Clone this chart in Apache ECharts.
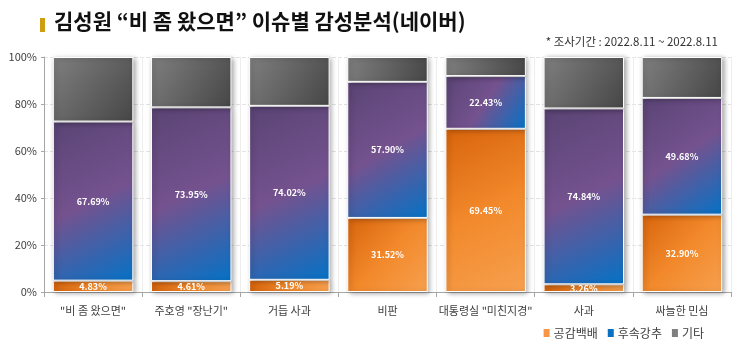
<!DOCTYPE html>
<html>
<head>
<meta charset="utf-8">
<script src="https://cdn.jsdelivr.net/npm/echarts@6/dist/echarts.min.js"></script>
<style>
  html, body { margin: 0; padding: 0; background: #fff; }
  #chart { width: 737px; height: 352px; }
</style>
</head>
<body>
<div id="chart"></div>
<script>
// 이슈별 감성 비율 (%)
const categories = ['"비 좀 왔으면"', '주호영 "장난기"', '거듭 사과', '비판', '대통령실 "미친지경"', '사과', '싸늘한 민심']
const empathy = [4.83, 4.61, 5.19, 31.52, 69.45, 3.26, 32.90]   // 공감백배
const recommend = [67.69, 73.95, 74.02, 57.90, 22.43, 74.84, 49.68] // 후속강추
const others = [27.48, 21.44, 20.79, 10.58, 8.12, 21.90, 17.42]   // 기타
const yTicks = [0, 20, 40, 60, 80, 100]

const chart = echarts.init(document.getElementById('chart'))

function grad(stops) {
  return new echarts.graphic.LinearGradient(0, 0, 1, 1, stops)
}

const barShadow = {
  borderColor: '#ffffff',
  borderWidth: 1,
  shadowBlur: 5,
  shadowColor: 'rgba(0,0,0,0.35)',
  shadowOffsetX: 2,
  shadowOffsetY: 1
}

chart.setOption({
  animation: false,
  textStyle: {fontFamily: '"Noto Sans CJK KR", "Noto Sans", sans-serif'},
  graphic: [
    {
      type: 'rect',
      left: 40, top: 18,
      shape: {width: 5, height: 14},
      style: {fill: '#CF9D12'}
    },
    {
      type: 'text',
      x: 54, y: 11,
      style: {
        text: '김성원 “비 좀 왔으면” 이슈별 감성분석(네이버)',
        font: 'bold 21px "Noto Sans CJK KR"',
        fill: '#111111'
      }
    },
    {
      type: 'text',
      right: 19, top: 36,
      style: {
        text: '* 조사기간 : 2022.8.11 ~ 2022.8.11',
        font: '11.5px "Noto Sans CJK KR"',
        fill: '#333333'
      }
    }
  ],
  legend: {
    right: 28,
    bottom: 8,
    itemWidth: 8,
    itemHeight: 10,
    itemGap: 8,
    icon: 'rect',
    textStyle: {fontSize: 12, color: '#404040', padding: [0, 0, 0, -2]},
    data: [
      {name: '공감백배', itemStyle: {color: '#F79646'}},
      {name: '후속강추', itemStyle: {color: '#0A70C0'}},
      {name: '기타', itemStyle: {color: '#7F7F7F'}}
    ]
  },
  grid: {left: 44, right: 6, top: 57, bottom: 60},
  xAxis: {
    type: 'category',
    data: categories,
    axisLine: {lineStyle: {color: '#A6A6A6'}},
    axisTick: {show: true, lineStyle: {color: '#A6A6A6'}},
    axisLabel: {color: '#404040', fontSize: 11, margin: 13, interval: 0},
    splitLine: {show: true, lineStyle: {color: '#EDEDED', width: 1}}
  },
  yAxis: {
    type: 'value',
    min: 0,
    max: 100,
    interval: 20,
    axisLine: {show: true, lineStyle: {color: '#A6A6A6'}},
    axisTick: {show: true, length: 3, lineStyle: {color: '#A6A6A6'}},
    axisLabel: {
      color: '#404040',
      fontSize: 11,
      margin: 7,
      formatter: v => yTicks.includes(v) ? v + '%' : ''
    },
    splitLine: {lineStyle: {color: '#E3E3E3', type: 'dashed'}}
  },
  series: [
    {
      name: '공감백배',
      type: 'bar',
      stack: 'total',
      barWidth: '82%',
      data: empathy,
      itemStyle: Object.assign({
        color: grad([
          {offset: 0, color: '#D8640C'},
          {offset: 0.5, color: '#F2892B'},
          {offset: 1, color: '#F7A04F'}
        ])
      }, barShadow),
      label: {
        show: true,
        position: 'inside',
        color: '#ffffff',
        fontSize: 9,
        fontWeight: 'bold',
        formatter: p => p.value.toFixed(2) + '%'
      }
    },
    {
      name: '후속강추',
      type: 'bar',
      stack: 'total',
      data: recommend,
      itemStyle: Object.assign({
        color: grad([
          {offset: 0, color: '#5A4474'},
          {offset: 0.5, color: '#74528F'},
          {offset: 1, color: '#0572C6'}
        ])
      }, barShadow),
      label: {
        show: true,
        position: 'inside',
        color: '#ffffff',
        fontSize: 9,
        fontWeight: 'bold',
        formatter: p => p.value.toFixed(2) + '%'
      }
    },
    {
      name: '기타',
      type: 'bar',
      stack: 'total',
      data: others,
      itemStyle: Object.assign({
        color: grad([
          {offset: 0, color: '#7F7F7F'},
          {offset: 1, color: '#464646'}
        ])
      }, barShadow)
    }
  ]
})
</script>
</body>
</html>
